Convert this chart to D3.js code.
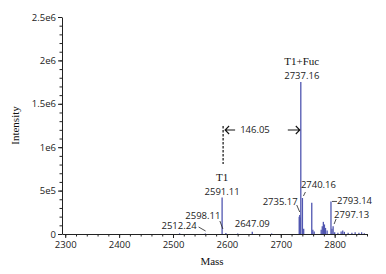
<!DOCTYPE html>
<html>
<head>
<meta charset="utf-8">
<script src="https://cdn.jsdelivr.net/npm/d3@7"></script>
<style>
  body { margin: 0; background: #fff; }
  .tick text { font-family: "Open Sans", sans-serif; font-size: 9.5px; fill: #222; }
  .lbl { font-family: "Open Sans", sans-serif; font-size: 9.5px; fill: #222; }
  .ser { font-family: "Liberation Serif", serif; font-size: 11px; fill: #111; }
</style>
</head>
<body>
<div id="chart"></div>
<script>
// spectrum peaks (mass, intensity)
const peakMass = [2512.24, 2560, 2591.11, 2598.11, 2620, 2647.09, 2683, 2734.2, 2735.17, 2736.2, 2737.16,
  2740.16, 2742.5, 2757.5, 2759.5, 2762, 2775, 2777, 2779, 2781, 2783, 2786, 2793.14, 2795, 2797.13,
  2800, 2806, 2812, 2815, 2818, 2825, 2832, 2838, 2845, 2850, 2855];
const peakIntensity = [8e3, 6e3, 4.2e5, 1.2e4, 5e3, 2.5e4, 6e3, 2.0e5, 2.2e5, 1.9e5, 1.75e6,
  4.15e5, 6e4, 3.6e5, 5e4, 3e4, 5e4, 9e4, 1.4e5, 1.1e5, 7e4, 4e4, 3.75e5, 6e4, 9e4,
  2e4, 1.5e4, 3e4, 4e4, 2.5e4, 1.5e4, 1.5e4, 2e4, 1.5e4, 2e4, 1e4];

// peak annotations
const annoText = ["2512.24", "2598.11", "2591.11", "2647.09", "2735.17", "2737.16", "2740.16", "2793.14", "2797.13"];
const annoMass = [2512.24, 2598.11, 2591.11, 2647.09, 2735.17, 2737.16, 2740.16, 2793.14, 2797.13];

const xTicks = [2300, 2400, 2500, 2600, 2700, 2800];
const yTicks = [0, 5e5, 1e6, 1.5e6, 2e6, 2.5e6];
const yTickLabels = ["0", "5e5", "1e6", "1.5e6", "2e6", "2.5e6"];
const massDiff = "146.05";

const W = 386, H = 274;
const svg = d3.select("#chart").append("svg").attr("width", W).attr("height", H);

const x = d3.scaleLinear().domain([2294, 2860]).range([62, 367]);
const y = d3.scaleLinear().domain([0, 2.5e6]).range([234, 17]);

// minor ticks
svg.append("g").attr("transform", `translate(0,${y(0)})`)
  .call(d3.axisBottom(x).tickValues(d3.range(2300, 2861, 20)).tickSize(2.5).tickFormat(""))
  .call(g => g.select(".domain").remove());
svg.append("g").attr("transform", `translate(${x.range()[0]},0)`)
  .call(d3.axisLeft(y).tickValues(d3.range(0, 2.5e6 + 1, 1e5)).tickSize(2.5).tickFormat(""))
  .call(g => g.select(".domain").remove());

// major axes
svg.append("g").attr("transform", `translate(0,${y(0)})`)
  .call(d3.axisBottom(x).tickValues(xTicks).tickSize(4).tickSizeOuter(0).tickPadding(3).tickFormat(d3.format("d")));
svg.append("g").attr("transform", `translate(${x.range()[0]},0)`)
  .call(d3.axisLeft(y).tickValues(yTicks).tickSize(4).tickSizeOuter(0).tickPadding(2)
    .tickFormat((d, i) => yTickLabels[i]));
svg.selectAll(".domain, .tick line").attr("stroke", "#222").attr("stroke-width", 1);

// axis titles
svg.append("text").attr("class", "ser").attr("x", 212).attr("y", 265).attr("text-anchor", "middle").text("Mass");
svg.append("text").attr("class", "ser").attr("transform", `translate(19,${(y(0) + y(2.5e6)) / 2}) rotate(-90)`)
  .attr("text-anchor", "middle").text("Intensity");

// peaks
svg.append("g").selectAll("line").data(peakMass).join("line")
  .attr("x1", d => x(d)).attr("x2", d => x(d))
  .attr("y1", y(0)).attr("y2", (d, i) => y(peakIntensity[i]))
  .attr("stroke", "#5056b0").attr("stroke-width", 1.3);

// annotation helpers
const intensityAt = m => peakIntensity[peakMass.indexOf(m)];
const annoPos = {
  "2512.24": { dx: 17, dy: -4, anchor: "end" },
  "2598.11": { dx: -23, dy: -14, anchor: "middle" },
  "2591.11": { dx: 0, dy: -3, anchor: "middle" },
  "2647.09": { dx: 0, dy: -5, anchor: "middle" },
  "2735.17": { dx: -2, dy: -10, anchor: "end" },
  "2737.16": { dx: 1, dy: -3, anchor: "middle" },
  "2740.16": { dx: 16, dy: -10, anchor: "middle" },
  "2793.14": { dx: 6, dy: 3, anchor: "start" },
  "2797.13": { dx: 1, dy: -8, anchor: "start" }
};
const ag = svg.append("g");
annoText.forEach((t, i) => {
  const m = annoMass[i], p = annoPos[t];
  const px = x(m), py = y(intensityAt(m));
  ag.append("text").attr("class", "lbl").attr("x", px + p.dx).attr("y", py + p.dy)
    .attr("text-anchor", p.anchor).text(t);
});
// leader lines
const lead = (x1, y1, x2, y2) => ag.append("line").attr("x1", x1).attr("y1", y1).attr("x2", x2).attr("y2", y2)
  .attr("stroke", "#222").attr("stroke-width", 0.8);
lead(x(2512.24) + 19, 227, x(2512.24) + 26, 231);
lead(x(2598.11) - 6, 221, x(2598.11) - 3, 229);
lead(x(2735.17) - 3, 205, x(2735.17), 212);
lead(x(2740.16) + 1, 196, x(2740.16) + 3, 192);
lead(x(2793.14) + 1, y(intensityAt(2793.14)), x(2793.14) + 6, y(intensityAt(2793.14)));
lead(x(2797.13) + 1, 224, x(2797.13) + 3, 219);

// series names
svg.append("text").attr("class", "ser").attr("x", x(2737.16) + 1).attr("y", y(intensityAt(2737.16)) - 17)
  .attr("text-anchor", "middle").text("T1+Fuc");
svg.append("text").attr("class", "ser").attr("x", x(2591.11)).attr("y", y(intensityAt(2591.11)) - 17)
  .attr("text-anchor", "middle").text("T1");

// mass difference marker
const dx1 = x(2591.11) + 1, dx2 = x(2737.16);
const my = 130;
ag.append("line").attr("x1", dx1).attr("x2", dx1).attr("y1", 126).attr("y2", 164)
  .attr("stroke", "#111").attr("stroke-width", 1.2).attr("stroke-dasharray", "2.5,1.5");
const arr = ag.append("g").attr("stroke", "#111").attr("stroke-width", 1.1).attr("fill", "none");
arr.append("path").attr("d", `M${dx1 + 12},${my}H${dx1 + 2}M${dx1 + 6},${my - 4}L${dx1 + 2},${my}L${dx1 + 6},${my + 4}`);
arr.append("path").attr("d", `M${dx2 - 13},${my}H${dx2 - 1}M${dx2 - 5},${my - 4}L${dx2 - 1},${my}L${dx2 - 5},${my + 4}`);
ag.append("text").attr("class", "lbl").attr("x", (dx1 + dx2) / 2 - 7).attr("y", my + 3)
  .attr("text-anchor", "middle").text(massDiff);
</script>
</body>
</html>
